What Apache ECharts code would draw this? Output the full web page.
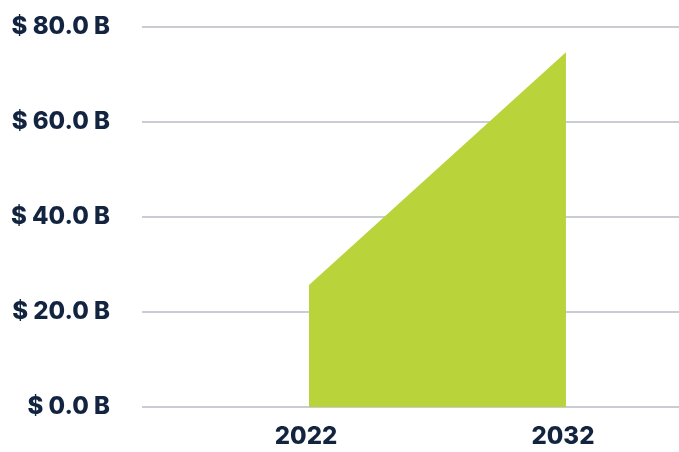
<!DOCTYPE html>
<html>
<head>
<meta charset="utf-8">
<script src="https://cdn.jsdelivr.net/npm/echarts@6/dist/echarts.min.js"></script>
<style>
html,body{margin:0;padding:0;background:#fff;}
#chart{width:679px;height:452px;}
</style>
</head>
<body>
<div id="chart"></div>
<script>
const years = [2022, 2032];
const marketSize = [25.7, 74.7];
const yTicks = [0, 20, 40, 60, 80];

const chart = echarts.init(document.getElementById('chart'), null, {renderer: 'canvas'});
const textColor = '#12243f';
chart.setOption({
  animation: false,
  grid: {left: 142, right: 0, top: 27, bottom: 45, containLabel: false},
  xAxis: {
    type: 'value',
    min: 2015.5,
    max: 2036.4,
    axisLine: {show: false},
    axisTick: {show: false},
    splitLine: {show: false},
    axisLabel: {
      customValues: years,
      color: textColor,
      fontFamily: 'Inter',
      fontWeight: 800,
      fontSize: 24,
      margin: 18,
      padding: [0, 6, 0, 0],
      formatter: v => String(v)
    }
  },
  yAxis: {
    type: 'value',
    min: yTicks[0],
    max: yTicks[yTicks.length - 1],
    interval: 20,
    axisLine: {show: false},
    axisTick: {show: false},
    splitLine: {lineStyle: {color: '#c9ccd3', width: 2}},
    axisLabel: {
      color: textColor,
      fontFamily: 'Inter',
      fontWeight: 800,
      fontSize: 24,
      margin: 32,
      formatter: v => '$ ' + v.toFixed(1) + ' B'
    }
  },
  series: [{
    type: 'line',
    data: years.map((y, i) => [y, marketSize[i]]),
    showSymbol: false,
    lineStyle: {width: 0},
    areaStyle: {color: '#b8d43a', opacity: 1},
    z: 3
  }]
});
</script>
</body>
</html>
